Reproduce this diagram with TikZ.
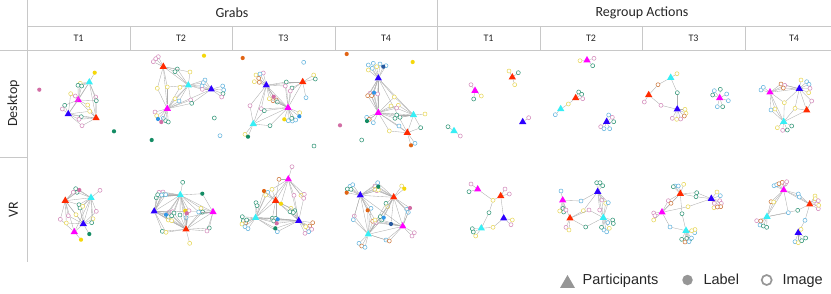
\documentclass[tikz,border=0pt]{standalone}
\usepackage{fontspec}
\setmainfont{Carlito}
\newfontfamily\legendfont{Liberation Sans}
\usepackage{tikz}
\usetikzlibrary{shapes.geometric}
\definecolor{gridGray}{RGB}{200,200,200}
\definecolor{tieGray}{RGB}{172,172,172}
\definecolor{legGray}{RGB}{150,150,150}
\definecolor{pRed}{RGB}{255,42,0}
\definecolor{pBlue}{RGB}{45,0,255}
\definecolor{pCyan}{RGB}{55,238,245}
\definecolor{pMag}{RGB}{255,0,255}
% open circles (images)
\definecolor{cy}{RGB}{232,216,90}
\definecolor{cg}{RGB}{50,150,120}
\definecolor{cp}{RGB}{212,140,188}
\definecolor{cb}{RGB}{100,180,222}
\definecolor{co}{RGB}{205,120,60}
% filled circles (labels)
\definecolor{dy}{RGB}{245,215,10}
\definecolor{dg}{RGB}{20,140,100}
\definecolor{dp}{RGB}{210,110,165}
\definecolor{do}{RGB}{225,100,20}
\definecolor{db}{RGB}{50,150,230}
\definecolor{dk}{RGB}{40,90,160}

\begin{document}
\begin{tikzpicture}[x=1pt,y=-1pt,
  part/.style={regular polygon,regular polygon sides=3,fill=#1,inner sep=0pt,minimum size=8.5pt},
  img/.style={circle,draw=#1,fill=white,line width=0.55pt,inner sep=0pt,minimum size=4pt},
  lbl/.style={circle,fill=#1,inner sep=0pt,minimum size=4.2pt},
  tie/.style={tieGray,line width=0.35pt},
  rule/.style={gridGray,line width=1pt},
  head/.style={text=black!85,font=\fontsize{14}{16}\selectfont},
  sub/.style={text=black!85,font=\fontsize{10}{12}\selectfont},
  legtext/.style={text=black!85,anchor=base west,inner sep=0pt,font=\legendfont\fontsize{14.5}{16}\selectfont}]
\useasboundingbox (0,0) rectangle (831,293);

% table
\draw[rule] (27,0) -- (27,262);
\draw[rule] (437,0) -- (437,50);
\draw[rule] (27,26) -- (831,26);
\draw[rule] (0,50) -- (831,50);
\draw[rule] (0,157) -- (27,157);
\foreach \x in {130,232,335,540,642,745} \draw[rule] (\x,26) -- (\x,50);

\node[head] (grabs) at (232,13) {Grabs};
\node[head] (regroup) at (642,13) {Regroup Actions};
\foreach \x/\lab [count=\n] in {78.5/T1,181/T2,283.5/T3,386/T4,488.5/T1,591/T2,693.5/T3,794/T4}
  \node[sub] (t\n) at (\x,38.5) {\lab};
\node[head,rotate=90] (desktop) at (13.5,103.5) {Desktop};
\node[head,rotate=90] (vr) at (13.5,210) {VR};

% Desktop -- Grabs T1
\begin{scope}[name prefix=dg1-]
\node[part=pRed] (R) at (96,118) {};
\node[part=pBlue] (B) at (68.3,114) {};
\node[part=pCyan] (C) at (89.3,82.3) {};
\node[part=pMag] (M) at (78.3,100) {};
\foreach \a/\b in {R/B,R/M,R/C,B/M,B/C,M/C} \draw[tie] (\a) -- (\b);
\foreach \x/\y/\col/\nb [count=\n] in {80.3/83.3/cy/{C,M},78/85.3/cg/{C,M},81.7/86/cg/{C,M},70.7/93.7/cy/{M,B},
  75.3/96/cp/M,95.7/97/cp/{C,R},96.3/100.7/cg/{C,R,M},64.7/105.3/cg/{B,M},62.3/109/cp/B,87.7/105/cy/{M,R},
  89.7/111.3/cy/{R,B},81.3/116.7/cg/{R,B},79/119.3/cp/{B,R},82/125.7/cp/{B,R}}
  {\node[img=\col] (o\n) at (\x,\y) {}; \foreach \s in \nb \draw[tie] (o\n) -- (\s);}
\node[lbl=dy] (l1) at (94.7,72.7) {};
\draw[tie] (l1) -- (C);
\node[lbl=dp] (l2) at (39.3,89.7) {};
\node[lbl=dg] (l3) at (114,131.3) {};
\end{scope}

% Desktop -- Grabs T2
\begin{scope}[name prefix=dg2-]
\node[part=pRed] (R) at (163.3,66.7) {};
\node[part=pCyan] (C) at (188.3,85.3) {};
\node[part=pBlue] (B) at (211.3,89.3) {};
\node[part=pMag] (M) at (167.3,108.7) {};
\foreach \a/\b in {R/C,R/M,C/B,C/M,M/B} \draw[tie] (\a) -- (\b);
\foreach \x/\y/\col/\nb [count=\n] in {158.3/56.7/cp/R,155.7/58.7/cp/R,153.3/61.7/cp/R,177.3/69/cg/{R,C},
  175/71.7/cg/{R,C},190/72/cy/{C,R},157.3/88.3/cy/{R,M},167.3/87/cy/{R,M,C},180/87.3/cy/{C,M},
  205/80/cb/{C,B},203.3/82.7/cb/{C,B},202/86/cb/{C,B},202.3/89.3/cp/{C,B},222.7/86/cb/B,223.7/90/cb/B,
  223/93.7/cg/B,221.7/97/cp/B,190.7/100/cp/{C,M},191.7/103.3/cg/{M,B},175/98.7/cy/{M,C},179/101/cb/{M,C},
  155/112/cp/M,156.7/115.7/cy/M,163.3/118.3/cb/M,165.7/120.7/cg/M,168.3/122/cg/M}
  {\node[img=\col] (o\n) at (\x,\y) {}; \foreach \s in \nb \draw[tie] (o\n) -- (\s);}
\node[lbl=db] (l1) at (158,119) {};
\node[lbl=dp] (l2) at (161.3,122) {};
\draw[tie] (l1) -- (M) (l2) -- (M);
\node[img=cg] (i1) at (214.3,118) {};
\node[img=cb] (i2) at (220,135.7) {};
\node[lbl=dy] (l3) at (204,55.7) {};
\node[lbl=dg] (l4) at (151.7,140) {};
\end{scope}

% Desktop -- Grabs T3
\begin{scope}[name prefix=dg3-]
\node[part=pBlue] (B) at (266.3,85.3) {};
\node[part=pRed] (R) at (302.7,82) {};
\node[part=pMag] (M) at (288,107.7) {};
\node[part=pCyan] (C) at (253.3,124) {};
\foreach \a/\b in {B/R,B/M,B/C,R/M,M/C} \draw[tie] (\a) -- (\b);
\foreach \x/\y/\col/\nb [count=\n] in {256/75/cy/B,258.7/78.3/co/B,254.3/81.7/cy/B,263.3/73/cp/B,260/74/cb/B,
  259.3/82.3/co/B,286.3/82/cg/{B,R,M},285.3/86/cp/{B,M},292/88/cg/{R,M},290.3/91/cp/{R,M},313.7/75/cy/R,
  315.3/79/cg/R,306/97.7/cb/R,276.3/100/co/{B,M},273/100.7/co/{B,M},277.3/102/cg/{B,M},269.3/98.7/cy/{B,M},
  250/105.7/cp/{B,C},261.3/108.7/cp/{B,M},264.3/110.7/cg/{C,M},288.3/120.7/cb/M,292.3/121/cb/M,
  295.7/120/cb/M,291.7/118.3/cg/M,299.7/112.7/cy/M,270/125.7/cg/{C,M},245/134.3/cy/C}
  {\node[img=\col] (o\n) at (\x,\y) {}; \foreach \s in \nb \draw[tie] (o\n) -- (\s);}
\foreach \x/\y/\col/\nb [count=\n] in {273.7/96.7/dp/{B,M},284.3/119.3/dy/M,299.3/116.3/db/M,248/136.7/dg/C}
  {\node[lbl=\col] (l\n) at (\x,\y) {}; \foreach \s in \nb \draw[tie] (l\n) -- (\s);}
\node[img=cb] (i1) at (303.7,62.3) {};
\node[img=cg] (i2) at (314,146) {};
\node[lbl=do] (l5) at (242.7,58) {};
\end{scope}

% Desktop -- Grabs T4
\begin{scope}[name prefix=dg4-]
\node[part=pBlue] (B) at (378.3,78.3) {};
\node[part=pMag] (M) at (378.3,112.7) {};
\node[part=pCyan] (C) at (413.5,115) {};
\node[part=pRed] (R) at (407.3,132.7) {};
\foreach \a/\b in {B/M,B/C,M/C,M/R,C/R,B/R} \draw[tie] (\a) -- (\b);
\foreach \x/\y/\col/\nb [count=\n] in {368.3/65/cb/B,373.3/63.3/cb/B,380/64/cb/B,386/65.7/cb/B,368.3/70/cy/B,
  372.3/68.3/cb/B,376.7/66.7/cy/B,370/93.3/cp/{B,M},373.3/94/cp/{B,M},377.7/94/cp/{B,M},367.7/95.7/co/{B,M},
  371.7/95.7/co/{B,M},394.3/97/cy/{B,M,C},391/106/cy/{M,C},398.3/105.3/cy/{M,C},396.7/108/cp/M,
  366.7/117.3/cb/M,369.3/119.3/co/M,373.3/122.7/cb/M,395/118.3/cg/{M,C},400/117.3/cg/{M,C},
  396.7/115/cg/{M,C},399/126/cb/{M,R},389.3/131/cy/{M,R},420.7/127.7/cg/{R,C},425/114/cy/C,415/143.3/cb/R}
  {\node[img=\col] (o\n) at (\x,\y) {}; \foreach \s in \nb \draw[tie] (o\n) -- (\s);}
\foreach \x/\y/\col/\nb [count=\n] in {383.3/66.7/dk/B,374/92.7/db/{B,M},367/121/dg/M,411/145.3/do/R}
  {\node[lbl=\col] (l\n) at (\x,\y) {}; \foreach \s in \nb \draw[tie] (l\n) -- (\s);}
\node[img=cg] (i1) at (361.7,140) {};
\node[lbl=do] (l5) at (346.7,54) {};
\node[lbl=dy] (l6) at (412.7,62) {};
\node[lbl=dp] (l7) at (340,125.3) {};
\end{scope}

% Desktop -- Regroup T1
\begin{scope}[name prefix=dr1-]
\node[part=pMag] (M) at (475,90.7) {};
\node[part=pRed] (R) at (512.3,77.3) {};
\node[part=pBlue] (B) at (522.7,122) {};
\node[part=pCyan] (C) at (454,131) {};
\foreach \x/\y/\col/\nb [count=\n] in {471/84.7/cp/M,481.3/96/cy/M,473.7/99/cg/M,509/71/cy/R,518.3/72.7/cg/R,
  514.7/84.7/cy/R,528.7/117.7/cp/B,448/126.7/cg/C,460.3/136/cp/C}
  {\node[img=\col] (o\n) at (\x,\y) {}; \foreach \s in \nb \draw[tie] (o\n) -- (\s);}
\end{scope}

% Desktop -- Regroup T2
\begin{scope}[name prefix=dr2-]
\node[part=pMag] (M) at (587,60.3) {};
\node[part=pRed] (R) at (575.7,98) {};
\node[part=pCyan] (C) at (560.7,109) {};
\node[part=pBlue] (B) at (606.7,121.7) {};
\foreach \x/\y/\col/\nb [count=\n] in {580/60.7/cy/M,594/58.3/cp/M,592.7/65.7/cg/M,578.7/92/cg/R,581.7/94.3/cg/R,
  582.7/98.7/cp/R,568.3/104/cy/{R,C},555.3/114.7/cb/C,608.7/115/cb/B,612.3/117.3/cp/B,613.7/121.7/cg/B,
  600.7/126.7/cp/B,604/128.7/cb/B,609.7/128.7/cb/B}
  {\node[img=\col] (o\n) at (\x,\y) {}; \foreach \s in \nb \draw[tie] (o\n) -- (\s);}
\end{scope}

% Desktop -- Regroup T3
\begin{scope}[name prefix=dr3-]
\node[part=pCyan] (C) at (670.7,77.7) {};
\node[part=pRed] (R) at (648.7,95) {};
\node[part=pBlue] (B) at (677.3,109.3) {};
\node[part=pMag] (M) at (719.7,98) {};
\foreach \x/\y/\col/\nb [count=\n] in {677/73.7/cy/C,658/84.7/co/{C,R},644.3/102/cp/R,661/105.3/cp/{R,B},
  677.3/92.7/cg/{C,B},685/109.3/cy/B,686/113.3/cy/B,684.3/116/co/B,672.3/118.3/cp/B,676.7/119.3/cy/B,
  680.7/119/cp/B,714.3/90.7/cb/M,720.3/89.3/cg/M,726.7/94/cb/M,728.3/100.7/cb/M,722.7/106.7/cg/M,
  717.3/106.7/cb/M,712.7/95/cg/M}
  {\node[img=\col] (o\n) at (\x,\y) {}; \foreach \s in \nb \draw[tie] (o\n) -- (\s);}
\end{scope}

% Desktop -- Regroup T4
\begin{scope}[name prefix=dr4-]
\node[part=pMag] (M) at (770,92.3) {};
\node[part=pBlue] (B) at (799.3,88.7) {};
\node[part=pRed] (R) at (806.7,110.3) {};
\node[part=pCyan] (C) at (783.7,121.7) {};
\foreach \a/\b in {M/B,M/C,B/R,C/R} \draw[tie] (\a) -- (\b);
\foreach \x/\y/\col/\nb [count=\n] in {761/90/cb/M,763.3/87.3/cb/M,781/84/co/{M,B},784.7/85.3/cp/{M,B},
  783.3/88/co/{M,B},801/80/cy/B,806.7/81.7/cb/B,809/84.3/cb/B,810/88.3/cp/B,808.7/92.7/cy/B,
  784.3/102.7/cy/{M,B,C},795/108.3/cy/{B,C,R},811.7/101/cp/{B,R},771/110/cb/{M,C},775/109/cy/{M,C},
  777.3/127.7/cy/C,782.7/130.3/cp/C,787.3/130/cg/C,791.7/126/cg/C}
  {\node[img=\col] (o\n) at (\x,\y) {}; \foreach \s in \nb \draw[tie] (o\n) -- (\s);}
\end{scope}

% VR -- Grabs T1
\begin{scope}[name prefix=vg1-]
\node[part=pRed] (R) at (65.3,200.7) {};
\node[part=pCyan] (C) at (91,197.7) {};
\node[part=pBlue] (B) at (83.3,224) {};
\node[part=pMag] (M) at (74.3,232) {};
\foreach \a/\b in {R/C,R/B,R/M,C/B,C/M,B/M} \draw[tie] (\a) -- (\b);
\foreach \x/\y/\col/\nb [count=\n] in {100/190.3/cp/C,75.7/188.7/cg/{R,C},77/192.3/cg/{R,C},73.3/192.3/cp/R,
  79/204.7/cg/{R,C,B},80/208/cg/{C,B},82.7/206.3/cy/{C,B},96.3/211.3/cp/{C,B},68.3/215.7/cp/{R,B},
  76/214.7/cy/{R,B},60.3/219.3/cp/{R,M},66.3/223/cy/{R,B},93/218.7/cy/{C,B},91.7/222.7/cg/{C,B}}
  {\node[img=\col] (o\n) at (\x,\y) {}; \foreach \s in \nb \draw[tie] (o\n) -- (\s);}
\foreach \x/\y/\col/\nb [count=\n] in {79.3/190/dp/{R,C},89.3/234/dg/B,81/239.7/dy/M}
  {\node[lbl=\col] (l\n) at (\x,\y) {}; \foreach \s in \nb \draw[tie] (l\n) -- (\s);}
\end{scope}

% VR -- Grabs T2
\begin{scope}[name prefix=vg2-]
\node[part=pCyan] (C) at (180.3,195) {};
\node[part=pBlue] (B) at (154.3,211.3) {};
\node[part=pMag] (M) at (213,212) {};
\node[part=pRed] (R) at (186,229.3) {};
\foreach \a/\b in {C/B,C/M,C/R,B/M,B/R,M/R} \draw[tie] (\a) -- (\b);
\foreach \x/\y/\col/\nb [count=\n] in {182.7/182.3/cg/C,159/192.3/cp/{B,C},163/192/cp/{B,C},156.3/197.7/cg/{B,C},
  157.7/194.7/cg/{B,C},163.3/194.7/cg/{B,C},161.7/195/cb/{B,C},165.7/194.7/cb/{B,C},169.3/212/cp/{B,C,R},
  172.7/211.7/cp/{B,R},168.3/216.7/cg/{B,R},171.7/215.7/cg/{B,R,C},174/213/cg/{B,C},168.3/220/cy/{B,R},
  171.7/220.7/cy/{B,R},189/210.7/cp/{C,R},186/217.7/cb/{C,R,M},180/215/cg/{C,R},201/208.3/cy/{C,M},
  200/212/cg/{M,R},202.7/212/cg/{M,R},198.7/212/cb/{M,C},162.3/231.3/cg/{B,R},166/232.3/cy/{B,R},
  209.3/228/cg/{M,R},207/231/cp/{M,R},189.7/243.3/cy/R}
  {\node[img=\col] (o\n) at (\x,\y) {}; \foreach \s in \nb \draw[tie] (o\n) -- (\s);}
\foreach \x/\y/\col/\nb [count=\n] in {202.3/193.7/dg/{C,M},166/214.7/db/{B,C},185.3/210.7/dy/{C,R},186.7/213.3/dp/{C,R}}
  {\node[lbl=\col] (l\n) at (\x,\y) {}; \foreach \s in \nb \draw[tie] (l\n) -- (\s);}
\end{scope}

% VR -- Grabs T3
\begin{scope}[name prefix=vg3-]
\node[part=pMag] (M) at (288.3,179.3) {};
\node[part=pRed] (R) at (275.7,200.7) {};
\node[part=pCyan] (C) at (255.7,217.7) {};
\node[part=pBlue] (B) at (298.7,220.7) {};
\foreach \a/\b in {M/R,M/B,R/C,R/B,C/B,M/C} \draw[tie] (\a) -- (\b);
\foreach \x/\y/\col/\nb [count=\n] in {292/166.7/cp/M,279/179.3/co/{M,R},267.7/192.3/cb/{R,C},272/189.3/cy/{R,M},
  265.7/195/cy/{R,C},294/195.3/cp/{M,B},304.3/194.3/cp/M,301/195.3/cy/M,303.7/198.3/cp/{M,B},256/202.7/cg/C,
  257/205.7/cg/C,291/208.3/cy/{R,B},294.7/210.7/cg/{R,B},290/211.7/cg/{R,B},293.3/212.5/cg/B,242.3/216.7/cg/C,
  243.3/220.7/cg/C,245.7/222.7/co/C,242/224/cy/C,245/226.7/cb/C,248/228.7/cb/C,246.7/220/cg/C,
  272.3/218.3/cg/{C,B,R},275.7/218.3/cg/{C,B,R},273.7/221/cg/{C,B},277.3/231.7/cb/{C,B},312.7/222.7/co/B,
  309.7/226/co/B,307.7/228.3/cp/B,311.7/229.3/cp/B,308.7/231.7/cb/B,305/233.3/cp/B,305.7/226.7/cy/B}
  {\node[img=\col] (o\n) at (\x,\y) {}; \foreach \s in \nb \draw[tie] (o\n) -- (\s);}
\foreach \x/\y/\col/\nb [count=\n] in {264/191/do/{R,C},281/203.7/dy/{R,M},277.7/219.3/db/{C,B},
  276.7/223.3/dp/{C,B},275.3/228.3/dg/{C,B}}
  {\node[lbl=\col] (l\n) at (\x,\y) {}; \foreach \s in \nb \draw[tie] (l\n) -- (\s);}
\end{scope}

% VR -- Grabs T4
\begin{scope}[name prefix=vg4-]
\node[part=pBlue] (B) at (360.3,195.3) {};
\node[part=pRed] (R) at (393.7,197.3) {};
\node[part=pMag] (M) at (402.7,226.3) {};
\node[part=pCyan] (C) at (368.3,234.3) {};
\foreach \a/\b in {B/R,B/M,B/C,R/M,R/C,M/C} \draw[tie] (\a) -- (\b);
\foreach \x/\y/\col/\nb [count=\n] in {350/186.3/cb/B,352.7/184.7/cb/B,347.3/189/cg/B,351/189.3/cg/B,
  375/186/cp/{B,R},376.7/190.7/cp/{B,R},377.7/182.7/cb/{B,R},375/189.3/cy/{B,R},378.3/190/cy/{B,R},
  401.7/186/cy/R,386/203.3/cg/{R,C},387.7/206.7/cy/{R,C},371/208.3/cb/{B,C},354.3/216/cp/{B,C},
  353.3/219.7/cb/{B,C},372.7/221.3/co/{B,C,M},376/222.7/cp/{C,M},375/220/cy/{B,M},380.3/216.7/cg/{R,C},
  381.7/220/cg/{R,M},406.7/209.3/cb/{R,M},408.3/212.3/cb/{R,M},414.3/232.7/cp/M,412/236/cp/M,
  386/240/cb/{C,M},389.3/241/co/{C,M},359/243.3/cb/C,361.7/246/co/C,365/247.3/cb/C}
  {\node[img=\col] (o\n) at (\x,\y) {}; \foreach \s in \nb \draw[tie] (o\n) -- (\s);}
\foreach \x/\y/\col/\nb [count=\n] in {346.7/192.7/do/B,378.3/186.7/dg/{B,R},404.3/188.7/dy/R,367.7/210.3/do/{B,C},
  383.7/217.7/db/{R,C},391/224/dk/{R,M},410/208/dp/{R,M}}
  {\node[lbl=\col] (l\n) at (\x,\y) {}; \foreach \s in \nb \draw[tie] (l\n) -- (\s);}
\end{scope}

% VR -- Regroup T1
\begin{scope}[name prefix=vr1-]
\node[part=pMag] (M) at (477.7,189.3) {};
\node[part=pRed] (R) at (500.7,196) {};
\node[part=pBlue] (B) at (503.7,218.3) {};
\node[part=pCyan] (C) at (481.3,228.3) {};
\draw[tie] (R) -- (B);
\foreach \x/\y/\col/\nb [count=\n] in {471/184/cp/M,469/191.7/cg/M,505/189/cp/R,509.3/194/cp/R,493/200.3/cy/{M,R},
  489/212.7/cg/{o5,C},512.3/220/cy/B,511/224.7/cp/B,493/227.3/cy/{B,C},472.3/228.7/cg/C,473.3/232/cg/C,
  475.7/236/cy/C}
  {\node[img=\col] (o\n) at (\x,\y) {}; \foreach \s in \nb \draw[tie] (o\n) -- (\s);}
\end{scope}

% VR -- Regroup T2
\begin{scope}[name prefix=vr2-]
\node[part=pMag] (M) at (562.7,200.3) {};
\node[part=pRed] (R) at (570,218.3) {};
\node[part=pBlue] (B) at (597.7,191.7) {};
\node[part=pCyan] (C) at (603.3,217.7) {};
\foreach \a/\b in {M/R,B/C} \draw[tie] (\a) -- (\b);
\foreach \x/\y/\col/\nb [count=\n] in {561/191/cb/M,559.7/211/cy/M,563/208.3/cg/M,563.7/212/cg/M,566/210/cp/M,
  566/227.3/cp/R,569/230/cy/R,581/201/cb/{M,B},583.3/210.7/cy/{R,B},589/210/cp/{R,C},596.7/182.7/cg/B,
  600/182.7/cg/B,602.7/185.7/cg/B,585.7/227/cg/{R,C},602/200/cp/{B,C},605.7/203.3/cy/{B,C},
  608.3/202.7/cb/{B,C},599.7/210/cp/{B,C},612.7/220/cg/C,613.3/223.5/cg/C,607.7/222.7/cb/C,609.3/228.3/cy/C,
  604/230/cb/C,606.7/231.8/cb/C,601.5/227.3/cg/C}
  {\node[img=\col] (o\n) at (\x,\y) {}; \foreach \s in \nb \draw[tie] (o\n) -- (\s);}
\end{scope}

% VR -- Regroup T3
\begin{scope}[name prefix=vr3-]
\node[part=pRed] (R) at (680.3,193.7) {};
\node[part=pBlue] (B) at (711.3,198.7) {};
\node[part=pMag] (M) at (662,212.3) {};
\node[part=pCyan] (C) at (686,230.7) {};
\draw[tie] (M) -- (R);
\foreach \x/\y/\col/\nb [count=\n] in {675/186/cb/R,678.3/186/cb/R,673.3/186.7/cg/R,683.7/184.3/cy/R,
  696.7/192.7/cg/{R,B},696/196.7/cg/{R,B},717/192/cy/B,720.3/195.7/cb/B,719.7/200.7/cp/B,721.3/203.3/cp/B,
  714/207.7/cy/B,720.7/206.7/co/B,717.3/207/co/B,714.3/203.3/cp/B,668.3/200.7/cp/{M,R},671/203.3/co/{M,R},
  688/206.7/cy/{M,B},653.7/213/cp/M,655/215.7/cp/M,653.7/220/cy/M,682/213.7/cg/{R,C},670/227/cb/{M,C},
  681.7/239.3/cg/C,686.7/238.3/cg/C,690/239.3/cg/C,685/242/co/C,689/241.7/cb/C,691.5/238/cb/C,
  694.7/232.7/cb/C,695/229.5/cy/C,691.7/230.7/cy/C}
  {\node[img=\col] (o\n) at (\x,\y) {}; \foreach \s in \nb \draw[tie] (o\n) -- (\s);}
\end{scope}

% VR -- Regroup T4
\begin{scope}[name prefix=vr4-]
\node[part=pMag] (M) at (783.7,190) {};
\node[part=pRed] (R) at (809.7,204.3) {};
\node[part=pCyan] (C) at (767,216.7) {};
\node[part=pBlue] (B) at (798.3,232.7) {};
\foreach \a/\b in {M/R,M/C} \draw[tie] (\a) -- (\b);
\foreach \x/\y/\col/\nb [count=\n] in {774/185.7/cb/M,776.7/184.7/cb/M,779/183.7/co/M,782.3/182.3/co/M,
  785.3/184/cp/M,786.7/181.7/cp/M,771/201.7/co/{M,C},773.7/202/cy/{M,C},798.3/194/cb/{M,R},799.3/197/cb/{M,R},
  815/196/cy/R,815.3/198.7/cy/R,818.3/200.7/cp/R,816.7/204/cp/R,818.3/208.7/cp/R,818.7/205.3/cy/R,
  797.7/210.3/cg/{C,R},788.3/212.7/cb/{M,C},805/220.3/cb/{R,B},756.7/220.7/cp/C,760.7/221/co/C,760/225/cb/C,
  763.3/226/cg/C,766.7/227.3/cg/C,801/229.3/cy/B,795/241.7/cb/B,798.3/242.7/cy/B,801.7/240.7/cg/B,805.7/238/cg/B}
  {\node[img=\col] (o\n) at (\x,\y) {}; \foreach \s in \nb \draw[tie] (o\n) -- (\s);}
\end{scope}

% legend
\node[part=legGray,minimum size=17pt] (kpart) at (567.5,283.5) {};
\node[legtext] (kparttext) at (582.5,284.8) {Participants};
\node[lbl=legGray,minimum size=10.5pt] (klabel) at (687.5,280) {};
\node[legtext] (klabeltext) at (703.3,284.8) {Label};
\node[img=legGray,line width=1.7pt,minimum size=10pt] (kimage) at (766.7,280) {};
\node[legtext] (kimagetext) at (782.3,284.8) {Image};
\end{tikzpicture}
\end{document}
